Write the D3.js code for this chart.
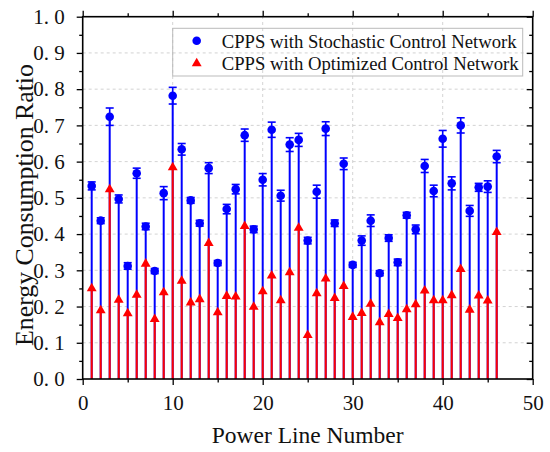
<!DOCTYPE html>
<html>
<head>
<meta charset="utf-8">
<script src="https://cdn.jsdelivr.net/npm/d3@7"></script>
<style>
  body { margin: 0; background: #fff; }
</style>
</head>
<body>
<div id="chart"></div>
<script>
// power line numbers 1..46
const lines = d3.range(1, 47);

// CPPS with stochastic control network (mean, error)
const stochastic = [0.533, 0.437, 0.724, 0.497, 0.312, 0.568, 0.421, 0.298, 0.513, 0.782,
  0.634, 0.493, 0.430, 0.582, 0.320, 0.469, 0.524, 0.673, 0.413, 0.550,
  0.688, 0.506, 0.647, 0.660, 0.382, 0.517, 0.691, 0.430, 0.594, 0.315,
  0.382, 0.437, 0.292, 0.389, 0.322, 0.452, 0.413, 0.588, 0.519, 0.663,
  0.540, 0.700, 0.464, 0.529, 0.531, 0.614];
const stochasticErr = [0.011, 0.008, 0.024, 0.011, 0.009, 0.014, 0.009, 0.007, 0.018, 0.023,
  0.016, 0.008, 0.008, 0.015, 0.007, 0.013, 0.013, 0.017, 0.009, 0.017,
  0.021, 0.015, 0.019, 0.018, 0.009, 0.018, 0.019, 0.009, 0.016, 0.007,
  0.013, 0.016, 0.007, 0.009, 0.009, 0.008, 0.012, 0.018, 0.016, 0.023,
  0.018, 0.021, 0.015, 0.011, 0.016, 0.017];

// CPPS with optimized control network
const optimized = [0.250, 0.189, 0.523, 0.218, 0.181, 0.232, 0.318, 0.165, 0.239, 0.584,
  0.271, 0.211, 0.220, 0.375, 0.184, 0.229, 0.227, 0.422, 0.199, 0.242,
  0.285, 0.217, 0.294, 0.417, 0.121, 0.236, 0.277, 0.223, 0.256, 0.171,
  0.182, 0.207, 0.156, 0.179, 0.168, 0.192, 0.206, 0.244, 0.217, 0.217,
  0.231, 0.303, 0.191, 0.230, 0.216, 0.405];

const xTicks = [0, 10, 20, 30, 40, 50];
const yTicks = [0, 0.1, 0.2, 0.3, 0.4, 0.5, 0.6, 0.7, 0.8, 0.9, 1.0];
const seriesNames = ['CPPS with Stochastic Control Network', 'CPPS with Optimized Control Network'];

const width = 550, height = 452;
const margin = {top: 16.7, right: 17.3, bottom: 73, left: 82.7};
const blue = '#0000ff', red = '#ff0000';
const serif = "'Liberation Serif', 'DejaVu Serif', serif";

const svg = d3.select('#chart').append('svg')
  .attr('width', width)
  .attr('height', height)
  .attr('font-family', serif);

const x = d3.scaleLinear().domain([0, 50]).range([margin.left, width - margin.right]);
const y = d3.scaleLinear().domain([0, 1]).range([height - margin.bottom, margin.top]);

// grid
const grid = svg.append('g').attr('stroke', '#c8c8c8').attr('stroke-width', 0.8).attr('stroke-dasharray', '3,3');
grid.selectAll('.gy').data(yTicks.slice(1, -1)).enter().append('line')
  .attr('x1', x(0)).attr('x2', x(50))
  .attr('y1', d => y(d)).attr('y2', d => y(d));
grid.selectAll('.gx').data(xTicks.slice(1, -1)).enter().append('line')
  .attr('y1', y(0)).attr('y2', y(1))
  .attr('x1', d => x(d)).attr('x2', d => x(d));

// blue stems
svg.append('g').selectAll('line').data(lines).enter().append('line')
  .attr('x1', d => x(d)).attr('x2', d => x(d))
  .attr('y1', y(0)).attr('y2', (d, i) => y(stochastic[i]))
  .attr('stroke', blue).attr('stroke-width', 2);

// error bars
const err = svg.append('g').attr('stroke', blue).attr('stroke-width', 1.6);
lines.forEach((d, i) => {
  const hi = y(stochastic[i] + stochasticErr[i]), lo = y(stochastic[i] - stochasticErr[i]);
  err.append('line').attr('x1', x(d)).attr('x2', x(d)).attr('y1', hi).attr('y2', lo);
  err.append('line').attr('x1', x(d) - 4).attr('x2', x(d) + 4).attr('y1', hi).attr('y2', hi);
  err.append('line').attr('x1', x(d) - 4).attr('x2', x(d) + 4).attr('y1', lo).attr('y2', lo);
});

// blue dots
svg.append('g').selectAll('circle').data(lines).enter().append('circle')
  .attr('cx', d => x(d)).attr('cy', (d, i) => y(stochastic[i]))
  .attr('r', 4.3).attr('fill', blue);

// red stems
svg.append('g').selectAll('line').data(lines).enter().append('line')
  .attr('x1', d => x(d)).attr('x2', d => x(d))
  .attr('y1', y(0)).attr('y2', (d, i) => y(optimized[i]))
  .attr('stroke', red).attr('stroke-width', 2);

// red triangles
const tri = d3.symbol().type(d3.symbolTriangle).size(42);
svg.append('g').selectAll('path').data(lines).enter().append('path')
  .attr('d', tri)
  .attr('transform', (d, i) => `translate(${x(d)},${y(optimized[i])})`)
  .attr('fill', red);

// axes
const axW = 1.6;
const minorX = [5, 15, 25, 35, 45];
const minorY = d3.range(0.05, 1, 0.1);
const axBottom = svg.append('g').attr('transform', `translate(0,${y(0)})`)
  .call(d3.axisBottom(x).tickValues(xTicks).tickSize(6).tickFormat(d3.format('d')));
const axBottomMinor = svg.append('g').attr('transform', `translate(0,${y(0)})`)
  .call(d3.axisBottom(x).tickValues(minorX).tickSize(3.5).tickFormat(''));
const axTop = svg.append('g').attr('transform', `translate(0,${y(1)})`)
  .call(d3.axisBottom(x).tickValues(xTicks).tickSize(-6).tickFormat(''));
const axTopMinor = svg.append('g').attr('transform', `translate(0,${y(1)})`)
  .call(d3.axisBottom(x).tickValues(minorX).tickSize(-3.5).tickFormat(''));
const axLeft = svg.append('g').attr('transform', `translate(${x(0)},0)`)
  .call(d3.axisLeft(y).tickValues(yTicks).tickSize(6).tickPadding(12).tickFormat(d3.format('.1f')));
const axLeftMinor = svg.append('g').attr('transform', `translate(${x(0)},0)`)
  .call(d3.axisLeft(y).tickValues(minorY).tickSize(3.5).tickFormat(''));
const axRight = svg.append('g').attr('transform', `translate(${x(50)},0)`)
  .call(d3.axisRight(y).tickValues(yTicks).tickSize(-6).tickFormat(''));
const axRightMinor = svg.append('g').attr('transform', `translate(${x(50)},0)`)
  .call(d3.axisRight(y).tickValues(minorY).tickSize(-3.5).tickFormat(''));

const allAxes = [axBottom, axBottomMinor, axTop, axTopMinor, axLeft, axLeftMinor, axRight, axRightMinor];
allAxes.forEach(g => {
  g.attr('font-family', serif).attr('font-size', 21);
  g.select('.domain').remove();
  g.selectAll('.tick line').attr('stroke', '#000').attr('stroke-width', 1.3);
});
svg.append('rect')
  .attr('x', x(0)).attr('y', y(1))
  .attr('width', x(50) - x(0)).attr('height', y(0) - y(1))
  .attr('fill', 'none').attr('stroke', '#000').attr('stroke-width', axW);

axBottom.selectAll('.tick text').attr('fill', '#111').attr('dy', '1.05em');
axLeft.selectAll('.tick text').attr('fill', '#111')
  .style('white-space', 'pre')
  .text(d => d3.format('.1f')(d).replace('.', '. '));

// titles
svg.append('text')
  .attr('x', x(25)).attr('y', 443)
  .attr('text-anchor', 'middle').attr('font-size', 23.5).attr('fill', '#111')
  .text('Power Line Number');
svg.append('text')
  .attr('transform', `translate(33.3,205) rotate(-90)`)
  .attr('text-anchor', 'middle').attr('font-size', 25.8).attr('fill', '#111')
  .text('Energy Consumption Ratio');

// legend
const legend = svg.append('g');
legend.append('rect')
  .attr('x', 172.7).attr('y', 28.3).attr('width', 350).attr('height', 47.7)
  .attr('fill', 'none').attr('stroke', '#bbb').attr('stroke-width', 1);
legend.append('circle').attr('cx', 196.7).attr('cy', 40.7).attr('r', 4.3).attr('fill', blue);
legend.append('path').attr('d', tri).attr('transform', 'translate(196.7,63.5)').attr('fill', red);
legend.selectAll('text.lab').data(seriesNames).enter().append('text')
  .attr('x', 221.7).attr('y', (d, i) => 47.5 + i * 22.7)
  .attr('font-size', 18.7).attr('fill', '#111')
  .text(d => d);
</script>
</body>
</html>
